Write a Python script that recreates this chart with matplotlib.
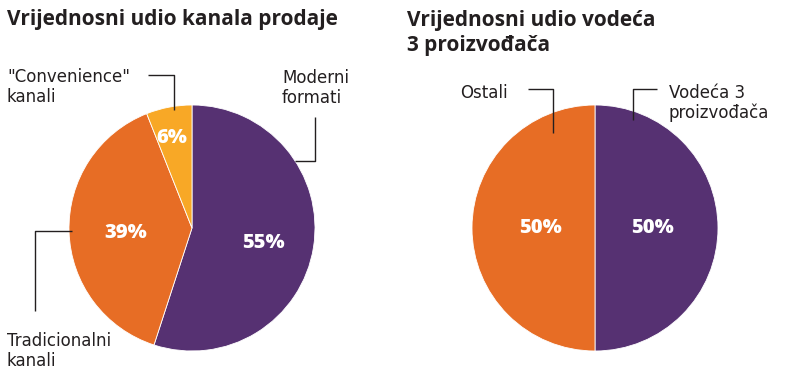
import matplotlib
matplotlib.use('Agg')
import matplotlib.pyplot as plt

plt.rcParams['font.family'] = ['Open Sans', 'DejaVu Sans']

# data
channel_labels = ['Moderni\nformati', 'Tradicionalni\nkanali', '"Convenience"\nkanali']
channel_values = [55, 39, 6]
producer_labels = ['Vodeća 3\nproizvođača', 'Ostali']
producer_values = [50, 50]

title_left = 'Vrijednosni udio kanala prodaje'
title_right = 'Vrijednosni udio vodeća\n3 proizvođača'

PURPLE = '#563172'
ORANGE = '#E76D25'
YELLOW = '#F8A826'
INK = '#231F20'

W, H = 785, 373


def y(py):
    # pixel row (from top) -> data y
    return H - py


fig = plt.figure(figsize=(W / 100, H / 100), dpi=100)
ax = fig.add_axes([0, 0, 1, 1])

R = 123

# left pie
ax.pie(channel_values, colors=[PURPLE, ORANGE, YELLOW], startangle=90,
       counterclock=False, center=(192, y(228)), radius=R,
       wedgeprops=dict(edgecolor='white', linewidth=0.6), frame=True)
# right pie
ax.pie(producer_values, colors=[PURPLE, ORANGE], startangle=90,
       counterclock=False, center=(595, y(228)), radius=R,
       wedgeprops=dict(edgecolor='white', linewidth=0.6), frame=True)
ax.set_xlim(0, W)
ax.set_ylim(0, H)
ax.set_aspect('equal')
ax.axis('off')

# percentages
pct_kw = dict(color='white', fontsize=14.5, fontweight='heavy', ha='center', va='center')
ax.text(263, y(243), f'{channel_values[0]}%', **pct_kw)
ax.text(126, y(233), f'{channel_values[1]}%', **pct_kw)
ax.text(172, y(138), f'{channel_values[2]}%', **pct_kw)
ax.text(652, y(228), f'{producer_values[0]}%', **pct_kw)
ax.text(540, y(228), f'{producer_values[1]}%', **pct_kw)

# titles
ax.text(7, y(20), title_left, fontsize=15, fontweight='bold', color=INK,
        ha='left', va='center')
ax.text(407, y(33), title_right, fontsize=15, fontweight='bold', color=INK,
        ha='left', va='center', linespacing=1.25)

# labels
lab_kw = dict(fontsize=12, color=INK, linespacing=1.15, family='DejaVu Sans')
ax.text(7, y(87), channel_labels[2], ha='left', va='center', **lab_kw)
ax.text(282, y(88), channel_labels[0], ha='left', va='center', **lab_kw)
ax.text(7, y(351), channel_labels[1], ha='left', va='center', **lab_kw)
ax.text(508, y(93), producer_labels[1], ha='right', va='center', **lab_kw)
ax.text(669, y(103), producer_labels[0], ha='left', va='center', **lab_kw)

# leader lines
ln_kw = dict(color=INK, linewidth=1.0, solid_capstyle='butt')
ax.plot([148, 174, 174], [y(75), y(75), y(110)], **ln_kw)
ax.plot([315, 315, 295], [y(117), y(161), y(161)], **ln_kw)
ax.plot([72, 35, 35], [y(231), y(231), y(311)], **ln_kw)
ax.plot([528, 553, 553], [y(89), y(89), y(133)], **ln_kw)
ax.plot([657, 633, 633], [y(89), y(89), y(120)], **ln_kw)

fig.savefig('out.png', dpi=100, facecolor='white')
